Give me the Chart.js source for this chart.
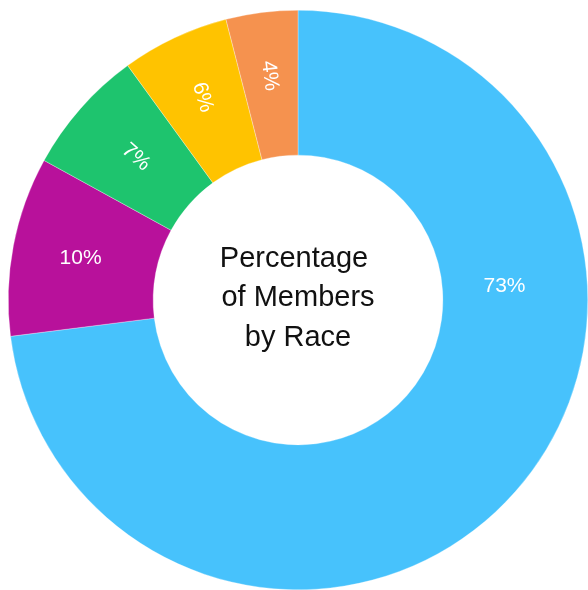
<!DOCTYPE html>
<html>
<head>
<meta charset="utf-8">
<script src="https://cdn.jsdelivr.net/npm/chart.js@4"></script>
<style>
  html, body { margin: 0; padding: 0; background: #fff; }
  #wrap { width: 588px; height: 590px; }
</style>
</head>
<body>
<div id="wrap"><canvas id="chart"></canvas></div>
<script>
// data, clockwise from the top
const categories = ['Group 1', 'Group 2', 'Group 3', 'Group 4', 'Group 5']
const values = [73, 10, 7, 6, 4]
const centerTitle = ['Percentage ', 'of Members', 'by Race']

const sliceColors = ['#47c2fc', '#b8119b', '#1ec46e', '#ffc300', '#f5924f']

// percentage text inside each slice; small slices get radial text
const sliceLabels = {
  id: 'sliceLabels',
  afterDatasetsDraw(chart, args, opts) {
    const ctx = chart.ctx
    const meta = chart.getDatasetMeta(0)
    ctx.save()
    ctx.font = opts.font
    ctx.fillStyle = opts.color
    ctx.textAlign = 'center'
    ctx.textBaseline = 'middle'
    meta.data.forEach((arc, i) => {
      const p = arc.getProps(['x', 'y', 'startAngle', 'endAngle', 'innerRadius', 'outerRadius'], true)
      const o = (opts.overrides || {})[i] || {}
      const mid = o.angle ?? (p.startAngle + p.endAngle) / 2
      const r = o.radius ?? (p.innerRadius + p.outerRadius) / 2 + opts.radialShift
      ctx.save()
      ctx.translate(p.x + Math.cos(mid) * r, p.y + Math.sin(mid) * r)
      if (values[i] < 10) ctx.rotate(mid + Math.PI + (o.tilt || 0))
      ctx.fillText(values[i] + '%', 0, 0)
      ctx.restore()
    })
    ctx.restore()
  },
}

const centerText = {
  id: 'centerText',
  afterDraw(chart, args, opts) {
    const arc = chart.getDatasetMeta(0).data[0]
    if (!arc) return
    const ctx = chart.ctx
    ctx.save()
    ctx.font = opts.font
    ctx.fillStyle = opts.color
    ctx.textAlign = 'center'
    ctx.textBaseline = 'alphabetic'
    const mid = (centerTitle.length - 1) / 2
    centerTitle.forEach((line, i) => {
      ctx.fillText(line, arc.x, arc.y + opts.baselineShift + (i - mid) * opts.lineHeight)
    })
    ctx.restore()
  },
}

new Chart(document.getElementById('chart'), {
  type: 'doughnut',
  data: {
    labels: categories,
    datasets: [
      {
        data: values,
        backgroundColor: sliceColors,
        borderColor: 'rgba(255,255,255,0.6)',
        borderWidth: 0.5,
      },
    ],
  },
  options: {
    responsive: true,
    maintainAspectRatio: false,
    animation: false,
    cutout: '50%',
    layout: { padding: { left: 8, top: 10, right: 0, bottom: 0 } },
    plugins: {
      legend: { display: false },
      tooltip: { enabled: false },
      sliceLabels: {
        font: '21px "Liberation Sans", Arial, sans-serif',
        color: '#ffffff',
        radialShift: 4,
        overrides: {
          0: { angle: -0.068, radius: 207 },
          2: { radius: 216 },
          3: { tilt: 0.15, radius: 224 },
          4: { radius: 226 },
        },
      },
      centerText: {
        font: '29px "Liberation Sans", Arial, sans-serif',
        color: '#111111',
        lineHeight: 39.5,
        baselineShift: 6,
      },
    },
  },
  plugins: [sliceLabels, centerText],
})
</script>
</body>
</html>
